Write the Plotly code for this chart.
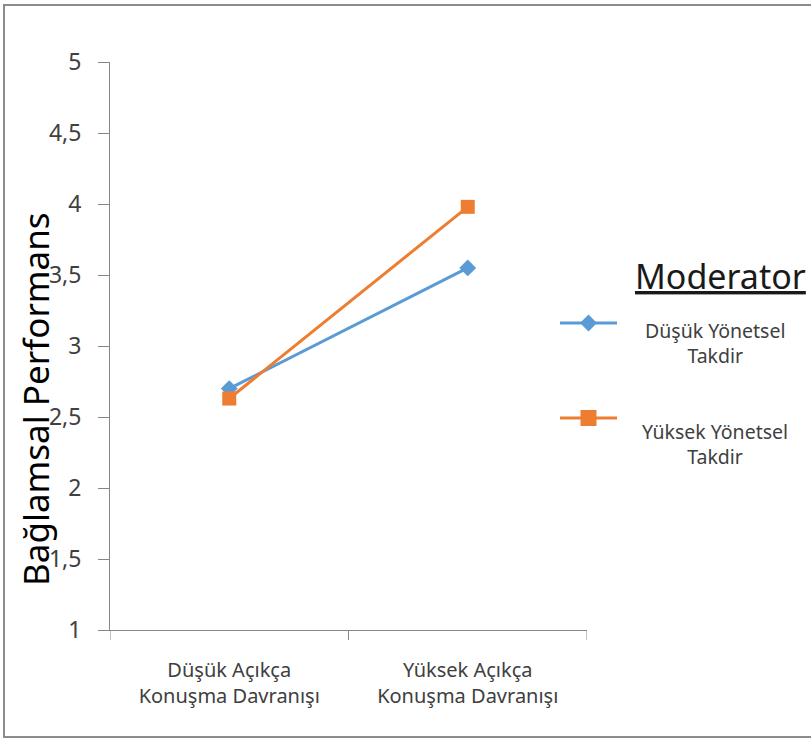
import plotly.graph_objects as go

# Data
categories = ["Düşük Açıkça<br>Konuşma Davranışı", "Yüksek Açıkça<br>Konuşma Davranışı"]
low_discretion = [2.70, 3.55]    # Düşük Yönetsel Takdir
high_discretion = [2.63, 3.98]   # Yüksek Yönetsel Takdir
y_ticks = [1, 1.5, 2, 2.5, 3, 3.5, 4, 4.5, 5]
y_tick_labels = ["1", "1,5", "2", "2,5", "3", "3,5", "4", "4,5", "5"]
series_names = ["Düşük Yönetsel<br>Takdir", "Yüksek Yönetsel<br>Takdir"]

BLUE = "#5B9BD5"
ORANGE = "#ED7D31"
AXIS = "#868686"
TXT = "#404040"
FONT = "Noto Sans"

W, H = 811, 740
L, R, T, B = 110, 0, 62, 110
PW = W - L - R
PH = H - T - B


def px_x(p):
    return (p - L) / PW


def px_y(p):
    return (H - B - p) / PH


fig = go.Figure()

fig.add_trace(go.Scatter(
    x=[0, 1], y=low_discretion, mode="lines+markers",
    line=dict(color=BLUE, width=3),
    marker=dict(symbol="diamond", size=13, color=BLUE),
    showlegend=False, xaxis="x", yaxis="y",
))
fig.add_trace(go.Scatter(
    x=[0, 1], y=high_discretion, mode="lines+markers",
    line=dict(color=ORANGE, width=3),
    marker=dict(symbol="square", size=14, color=ORANGE),
    showlegend=False, xaxis="x", yaxis="y",
))

# Legend keys drawn on a hidden helper axis; rows sit at y=0 and y=1
legend_keys = [(BLUE, "diamond", 13, 0.0), (ORANGE, "square", 16, 1.0)]
for color, sym, size, ky in legend_keys:
    fig.add_trace(go.Scatter(
        x=[0, 1], y=[ky, ky], mode="lines",
        line=dict(color=color, width=3),
        showlegend=False, xaxis="x2", yaxis="y2", hoverinfo="skip",
    ))
    fig.add_trace(go.Scatter(
        x=[0.5], y=[ky], mode="markers",
        marker=dict(symbol=sym, size=size, color=color),
        showlegend=False, xaxis="x2", yaxis="y2", hoverinfo="skip",
        cliponaxis=False,
    ))

fig.update_layout(
    width=W, height=H,
    margin=dict(l=L, r=R, t=T, b=B),
    paper_bgcolor="white", plot_bgcolor="white",
    font=dict(family=FONT, color=TXT),
    xaxis=dict(
        domain=[0, (587 - L) / PW],
        type="linear", range=[-0.5, 1.5],
        tickmode="array", tickvals=[0, 1], ticktext=categories,
        showgrid=False, zeroline=False,
        showline=True, linecolor=AXIS, linewidth=1,
        ticks="", tickfont=dict(size=20, color=TXT),
        ticklabelstandoff=22,
    ),
    yaxis=dict(
        range=[1, 5],
        tickmode="array", tickvals=y_ticks, ticktext=y_tick_labels,
        showgrid=False, zeroline=False,
        showline=True, linecolor=AXIS, linewidth=1,
        ticks="outside", ticklen=11, tickcolor=AXIS,
        tickfont=dict(size=23, color=TXT),
        ticklabelstandoff=12,
    ),
    # helper axis for legend keys: 1 unit = 95 px vertically, padded by 0.2
    xaxis2=dict(domain=[px_x(560), px_x(617)], range=[0, 1], visible=False,
                fixedrange=True),
    yaxis2=dict(domain=[px_y(437), px_y(304)], range=[1.2, -0.2],
                visible=False, anchor="x2", fixedrange=True),
)

# Category tick marks at the boundaries between categories
for xv in [-0.5, 0.5, 1.5]:
    fig.add_shape(type="line", xref="x", yref="paper", x0=xv, x1=xv,
                  y0=0, y1=px_y(640), line=dict(color=AXIS, width=1))

# Y axis title
fig.add_annotation(
    text="Bağlamsal Performans", textangle=-90,
    xref="paper", yref="paper", x=px_x(36), y=px_y(399),
    showarrow=False, font=dict(size=35, color="#000000"),
    xanchor="center", yanchor="middle",
)

# Legend title and entries
fig.add_annotation(
    text="<u>Moderator</u>", xref="paper", yref="paper",
    x=px_x(720), y=px_y(276), showarrow=False,
    font=dict(size=34, color="#1a1a1a"), xanchor="center", yanchor="middle",
)
for name, cy in zip(series_names, [343, 444]):
    fig.add_annotation(
        text=name, xref="paper", yref="paper",
        x=px_x(715), y=px_y(cy), showarrow=False,
        font=dict(size=19.5, color=TXT), xanchor="center", yanchor="middle",
        align="center",
    )

# Outer frame
fig.add_shape(type="rect", xref="paper", yref="paper",
              x0=px_x(4), x1=px_x(830), y0=px_y(737), y1=px_y(5),
              line=dict(color="#8c8c8c", width=2), layer="below")

fig.write_html("out.html")
